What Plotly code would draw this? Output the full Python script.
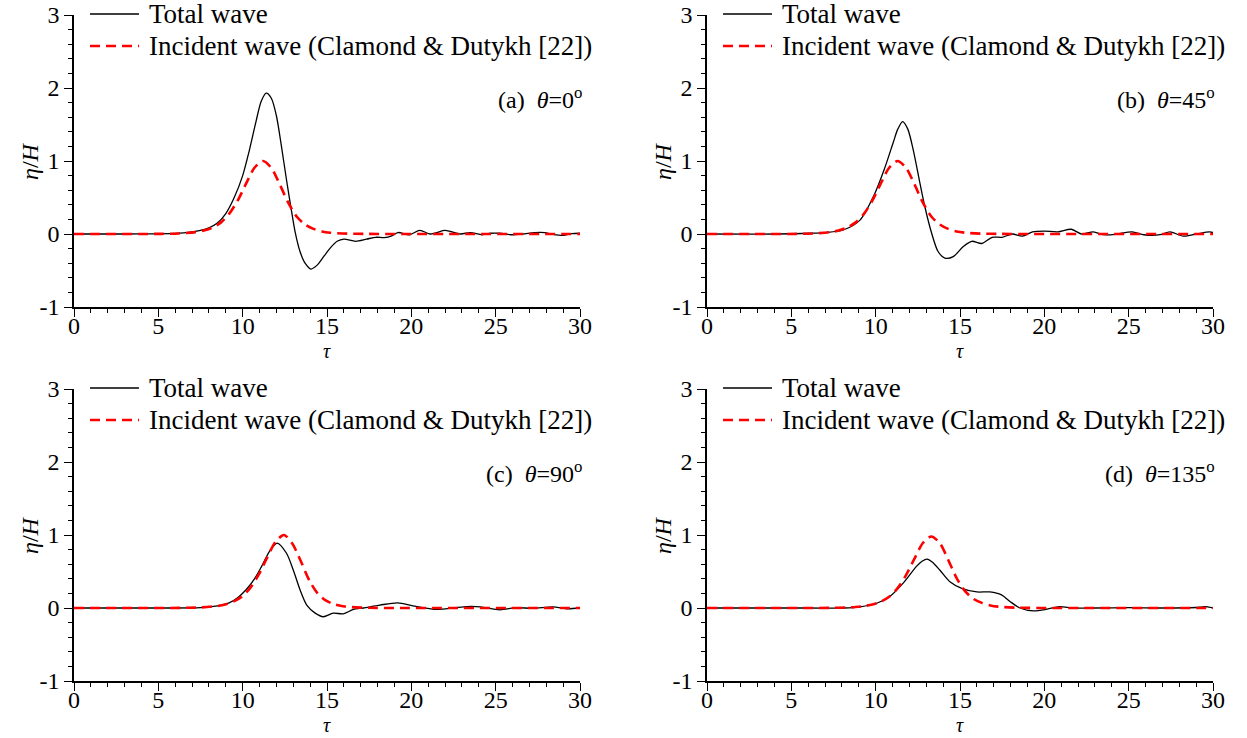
import plotly.graph_objects as go

# ---- axis ticks ----
tau_ticks = [0, 5, 10, 15, 20, 25, 30]
tau_ticktext = ["0", "5", "10", "15", "20", "25", "30"]
eta_ticks = [-1, 0, 1, 2, 3]
eta_ticktext = ["-1", "0", "1", "2", "3"]

panel_labels = ["(a)", "(b)", "(c)", "(d)"]
theta_deg = [0, 45, 90, 135]
series_names = ["Total wave", "Incident wave (Clamond & Dutykh [22])"]

# ---- (a) theta = 0 ----
total_a_tau = [0, 3, 5, 6, 7, 7.5, 8, 8.5, 9, 9.5, 10, 10.4, 10.8, 11.1, 11.4, 11.7, 12.0, 12.3,
               12.6, 12.9, 13.1, 13.4, 13.7, 14.05, 14.4, 14.8, 15.2, 15.6, 16.0, 16.7, 17.35,
               17.9, 18.4, 18.8, 19.2, 19.9, 20.5, 21.1, 21.5, 22.0, 22.9, 23.5, 24.2, 24.7,
               25.25, 25.9, 26.6, 27.3, 27.9, 28.4, 29.0, 29.5, 30]
total_a_eta = [0, 0, 0.002, 0.008, 0.03, 0.05, 0.085, 0.15, 0.28, 0.5, 0.8, 1.15, 1.55, 1.82, 1.93,
               1.86, 1.62, 1.2, 0.74, 0.31, 0.04, -0.24, -0.40, -0.48, -0.43, -0.31, -0.19, -0.10,
               -0.07, -0.10, -0.07, -0.045, -0.05, -0.03, 0.02, -0.01, 0.05, 0.0, 0.02, 0.05, 0.0,
               0.02, -0.01, 0.01, 0.01, -0.01, 0.0, 0.02, 0.02, -0.005, -0.02, 0.005, 0.01]
inc_a_tau = [0, 4.2, 5.2, 6.2, 7.2, 7.7, 8.2, 8.7, 9.2, 9.7, 10.2, 10.7, 11.2, 11.7, 12.2, 12.7,
             13.2, 13.7, 14.2, 14.7, 15.2, 16.2, 17.2, 18.2, 30]
inc_a_eta = [0, 0.0005, 0.002, 0.007, 0.026, 0.047, 0.088, 0.156, 0.276, 0.456, 0.689, 0.907, 1.0,
             0.905, 0.68, 0.43, 0.24, 0.13, 0.07, 0.035, 0.018, 0.005, 0.002, 0.0005, 0]

# ---- (b) theta = 45 ----
total_b_tau = [0, 4, 6.1, 7, 8.08, 9.07, 9.9, 10.5, 11.05, 11.3, 11.6, 11.9, 12.23, 12.63, 12.92,
               13.32, 13.7, 14.1, 14.6, 15.2, 15.7, 16.3, 16.9, 17.5, 18.1, 18.7, 19.3, 20.0,
               20.8, 21.6, 22.2, 22.9, 23.5, 24.2, 25.2, 25.9, 26.85, 27.45, 28.24, 29.0, 29.8, 30]
total_b_eta = [0, 0, 0.01, 0.02, 0.055, 0.19, 0.53, 0.88, 1.26, 1.43, 1.54, 1.44, 1.15, 0.69, 0.37,
               0.01, -0.24, -0.33, -0.31, -0.17, -0.10, -0.13, -0.045, -0.045, 0.0, -0.03, 0.03,
               0.04, 0.03, 0.065, 0.0, 0.03, -0.01, -0.005, 0.03, -0.01, -0.01, 0.03, -0.03, 0.0,
               0.03, 0.02]
inc_b_tau = [0, 4.3, 5.3, 6.3, 7.3, 7.8, 8.3, 8.8, 9.3, 9.8, 10.3, 10.8, 11.3, 11.8, 12.3, 12.8,
             13.3, 13.8, 14.3, 14.8, 15.3, 16.3, 17.3, 18.3, 30]
inc_b_eta = [0, 0.0005, 0.002, 0.007, 0.026, 0.047, 0.088, 0.156, 0.276, 0.456, 0.689, 0.907, 1.0,
             0.905, 0.68, 0.43, 0.24, 0.13, 0.07, 0.035, 0.018, 0.005, 0.002, 0.0005, 0]

# ---- (c) theta = 90 ----
total_c_tau = [0, 5, 7.5, 8.5, 9.2, 9.7, 10.2, 10.7, 11.1, 11.6, 12.05, 12.6, 13.0, 13.4, 13.8,
               14.3, 14.78, 15.37, 15.96, 16.56, 17.15, 18.14, 19.2, 20.1, 21.5, 22.5, 23.3, 24.1,
               25.25, 26.2, 27.2, 28.4, 29.2, 30]
total_c_eta = [0, 0, 0.005, 0.03, 0.07, 0.14, 0.25, 0.4, 0.56, 0.78, 0.89, 0.75, 0.52, 0.25, 0.04,
               -0.07, -0.12, -0.07, -0.08, -0.02, 0.0, 0.04, 0.07, 0.03, -0.02, 0.0, 0.02, 0.015,
               -0.025, 0.005, -0.005, 0.015, -0.01, 0.0]
inc_c_tau = [0, 5.45, 6.45, 7.45, 8.45, 8.95, 9.45, 9.95, 10.45, 10.95, 11.45, 11.95, 12.45, 12.95,
             13.45, 13.95, 14.45, 14.95, 15.45, 15.95, 16.45, 17.45, 18.45, 30]
inc_c_eta = [0, 0.0005, 0.002, 0.007, 0.026, 0.047, 0.088, 0.156, 0.276, 0.456, 0.689, 0.907, 1.0,
             0.88, 0.64, 0.38, 0.2, 0.1, 0.05, 0.025, 0.012, 0.003, 0.0005, 0]

# ---- (d) theta = 135 ----
total_d_tau = [0, 6, 8.1, 9.07, 10.06, 10.85, 11.63, 12.42, 12.75, 13.05, 13.35, 13.8, 14.4, 15.1,
               16.0, 16.77, 17.46, 17.96, 18.55, 19.35, 20.1, 20.9, 21.7, 23, 25, 27, 29.2, 29.6, 30]
total_d_eta = [0, 0, 0.0, 0.015, 0.065, 0.16, 0.34, 0.57, 0.64, 0.67, 0.63, 0.52, 0.36, 0.27, 0.22,
               0.22, 0.18, 0.09, 0.0, -0.04, -0.02, 0.02, 0.0, 0.0, 0.005, 0.0, 0.01, 0.02, 0.0]
inc_d_tau = [0, 6.3, 7.3, 8.3, 8.8, 9.3, 9.8, 10.3, 10.8, 11.3, 11.8, 12.3, 12.8, 13.3, 13.8,
             14.3, 14.8, 15.3, 15.8, 16.3, 16.8, 17.3, 18.3, 19.3, 30]
inc_d_eta = [0, 0.0005, 0.002, 0.007, 0.014, 0.026, 0.047, 0.087, 0.154, 0.272, 0.45, 0.675, 0.89,
             0.98, 0.89, 0.66, 0.41, 0.23, 0.125, 0.07, 0.035, 0.018, 0.005, 0.001, 0]

totals = [(total_a_tau, total_a_eta), (total_b_tau, total_b_eta),
          (total_c_tau, total_c_eta), (total_d_tau, total_d_eta)]
incidents = [(inc_a_tau, inc_a_eta), (inc_b_tau, inc_b_eta),
             (inc_c_tau, inc_c_eta), (inc_d_tau, inc_d_eta)]

# ---- layout geometry (pixels in a 1247 x 738 page) ----
W, H = 1247, 738
col_left = [74, 707]
row_top = [15, 389]
plot_w, plot_h = 506, 292

FONT = "Liberation Serif"
TICK_SIZE = 24
LEGEND_SIZE = 27
TEXT_SIZE = 24
TAU_SIZE = 20

fig = go.Figure()
layout = dict(
    width=W, height=H,
    margin=dict(l=0, r=0, t=0, b=0, autoexpand=False),
    paper_bgcolor="white", plot_bgcolor="white",
    font=dict(family=FONT, size=TICK_SIZE, color="black"),
    showlegend=False,
    shapes=[], annotations=[],
)

for i in range(4):
    r, c = divmod(i, 2)
    x0 = col_left[c]
    y0 = row_top[r]
    xdom = [x0 / W, (x0 + plot_w) / W]
    ydom = [1 - (y0 + plot_h) / H, 1 - y0 / H]
    sfx = "" if i == 0 else str(i + 1)
    xref, yref = "x" + sfx, "y" + sfx

    layout["xaxis" + sfx] = dict(
        domain=xdom, anchor=yref, range=[0, 30], automargin=False,
        tickmode="array", tickvals=tau_ticks, ticktext=tau_ticktext,
        ticks="outside", ticklen=8, tickwidth=1.3, tickcolor="black",
        ticklabelstandoff=-12,
        showline=True, linecolor="black", linewidth=1.6,
        showgrid=False, zeroline=False,
        minor=dict(dtick=1, ticks="outside", ticklen=4, tickwidth=1.1,
                   tickcolor="black", showgrid=False),
        tickfont=dict(size=TICK_SIZE, family=FONT),
    )
    layout["yaxis" + sfx] = dict(
        domain=ydom, anchor=xref, range=[-1, 3], automargin=False,
        tickmode="array", tickvals=eta_ticks, ticktext=eta_ticktext,
        ticks="outside", ticklen=8, tickwidth=1.3, tickcolor="black",
        showline=True, linecolor="black", linewidth=1.6,
        showgrid=False, zeroline=False,
        minor=dict(dtick=0.2, ticks="outside", ticklen=4, tickwidth=1.1,
                   tickcolor="black", showgrid=False),
        tickfont=dict(size=TICK_SIZE, family=FONT),
    )

    tt, te = totals[i]
    it, ie = incidents[i]
    fig.add_trace(go.Scatter(
        x=tt, y=te, mode="lines", name=series_names[0],
        line=dict(color="black", width=1.3, shape="spline", smoothing=0.8),
        xaxis=xref, yaxis=yref, hoverinfo="skip"))
    fig.add_trace(go.Scatter(
        x=it, y=ie, mode="lines", name=series_names[1],
        line=dict(color="#ff0000", width=2.6, dash="10px,6px", shape="spline", smoothing=0.8),
        xaxis=xref, yaxis=yref, hoverinfo="skip"))

    # legend keys and labels
    dx, dy = xref + " domain", yref + " domain"
    key_x0, key_x1, txt_x = 16 / plot_w, 65 / plot_w, 73 / plot_w
    key_y = [1 + 1 / plot_h, 1 - 31 / plot_h]
    layout["shapes"].append(dict(type="line", xref=dx, yref=dy, x0=key_x0, x1=key_x1,
                                 y0=key_y[0], y1=key_y[0], line=dict(color="black", width=1.3)))
    layout["shapes"].append(dict(type="line", xref=dx, yref=dy, x0=key_x0, x1=key_x1,
                                 y0=key_y[1], y1=key_y[1],
                                 line=dict(color="#ff0000", width=2.6, dash="10px,6px")))
    for k in range(2):
        layout["annotations"].append(dict(
            xref=dx, yref=dy, x=txt_x, y=key_y[k], text=series_names[k],
            showarrow=False, xanchor="left", yanchor="middle",
            font=dict(size=LEGEND_SIZE, family=FONT, color="black")))

    # panel label
    layout["annotations"].append(dict(
        xref=dx, yref=dy, x=1.008, y=1 - 83 / plot_h,
        text=f"{panel_labels[i]}  <i>θ</i>={theta_deg[i]}<sup>o</sup>",
        showarrow=False, xanchor="right", yanchor="middle",
        font=dict(size=TEXT_SIZE, family=FONT, color="black")))

    # axis titles
    layout["annotations"].append(dict(
        xref="paper", yref=dy, x=(x0 - 44) / W, y=0.5,
        text="<i>η</i>/<i>H</i>", textangle=-90, showarrow=False,
        xanchor="center", yanchor="middle",
        font=dict(size=TEXT_SIZE, family=FONT, color="black")))
    layout["annotations"].append(dict(
        xref=dx, yref="paper", x=0.5, y=1 - (y0 + plot_h + 44) / H,
        text="<i>τ</i>", showarrow=False, xanchor="center", yanchor="middle",
        font=dict(size=TAU_SIZE, family=FONT, color="black")))

fig.update_layout(**layout)
fig.write_html("out.html")
